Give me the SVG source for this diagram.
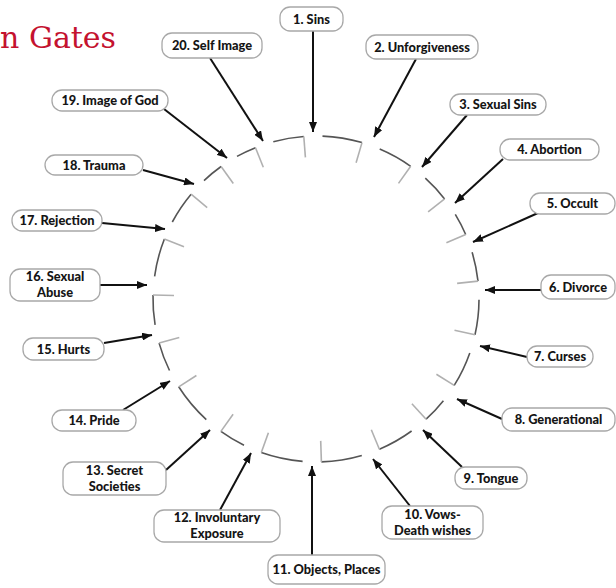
<svg xmlns="http://www.w3.org/2000/svg" width="616" height="588" viewBox="0 0 616 588">
<defs>
<style>
.box{fill:#fff;stroke:#a8a8a8;stroke-width:1.3}
.lbl{font-family:Lato,"Open Sans",sans-serif;font-weight:900;font-size:12.8px;fill:#151515;text-anchor:middle}
.arr{stroke:#111;stroke-width:2;fill:none;marker-end:url(#ah)}
.arc{stroke:#555;stroke-width:1.6;fill:none}
.tick{stroke:#b0b0b0;stroke-width:1.6;fill:none}
.title{font-family:"DejaVu Serif","Liberation Serif",serif;font-size:30px;fill:#c4122f}
</style>
<marker id="ah" markerUnits="userSpaceOnUse" markerWidth="10" markerHeight="8" refX="10" refY="4" orient="auto">
<path d="M0,0 L10,4 L0,8 z" fill="#111"/>
</marker>
</defs>
<rect width="616" height="588" fill="#fff"/>
<text class="title" x="116" y="48" text-anchor="end">n Gates</text>

<g id="ring">
<path class="arc" d="M322.5,136.1 A163,163 0 0 1 362.0,142.6"/><path class="tick" d="M362.0,142.6 L356.1,162.8"/>
<path class="arc" d="M379.7,149.0 A163,163 0 0 1 410.7,166.3"/><path class="tick" d="M410.7,166.3 L398.5,183.4"/>
<path class="arc" d="M425.3,178.1 A163,163 0 0 1 444.6,198.9"/><path class="tick" d="M444.6,198.9 L428.1,211.8"/>
<path class="arc" d="M455.3,214.3 A163,163 0 0 1 465.7,234.5"/><path class="tick" d="M465.7,234.5 L446.4,242.8"/>
<path class="arc" d="M472.1,252.2 A163,163 0 0 1 478.0,281.1"/><path class="tick" d="M478.0,281.1 L457.1,283.4"/>
<path class="arc" d="M479.0,299.8 A163,163 0 0 1 475.0,334.8"/><path class="tick" d="M475.0,334.8 L454.5,330.2"/>
<path class="arc" d="M469.8,352.9 A163,163 0 0 1 454.2,385.4"/><path class="tick" d="M454.2,385.4 L436.4,374.2"/>
<path class="arc" d="M443.4,400.7 A163,163 0 0 1 426.1,419.2"/><path class="tick" d="M426.1,419.2 L411.9,403.7"/>
<path class="arc" d="M411.6,431.0 A163,163 0 0 1 379.4,449.2"/><path class="tick" d="M379.4,449.2 L371.3,429.8"/>
<path class="arc" d="M361.8,455.4 A163,163 0 0 1 321.4,461.9"/><path class="tick" d="M321.4,461.9 L320.7,440.9"/>
<path class="arc" d="M302.6,461.4 A163,163 0 0 1 261.3,452.6"/><path class="tick" d="M261.3,452.6 L268.4,432.8"/>
<path class="arc" d="M244.0,445.3 A163,163 0 0 1 220.9,431.4"/><path class="tick" d="M220.9,431.4 L233.1,414.3"/>
<path class="arc" d="M206.3,419.6 A163,163 0 0 1 178.7,386.8"/><path class="tick" d="M178.7,386.8 L196.4,375.5"/>
<path class="arc" d="M169.5,370.5 A163,163 0 0 1 159.1,343.1"/><path class="tick" d="M159.1,343.1 L179.3,337.4"/>
<path class="arc" d="M155.1,324.8 A163,163 0 0 1 153.0,295.0"/><path class="tick" d="M153.0,295.0 L174.0,295.5"/>
<path class="arc" d="M154.6,276.3 A163,163 0 0 1 164.4,239.0"/><path class="tick" d="M164.4,239.0 L184.0,246.7"/>
<path class="arc" d="M172.3,222.0 A163,163 0 0 1 191.1,194.2"/><path class="tick" d="M191.1,194.2 L207.2,207.7"/>
<path class="arc" d="M204.0,180.6 A163,163 0 0 1 221.1,166.5"/><path class="tick" d="M221.1,166.5 L233.3,183.5"/>
<path class="arc" d="M237.0,156.4 A163,163 0 0 1 255.5,147.7"/><path class="tick" d="M255.5,147.7 L263.3,167.2"/>
<path class="arc" d="M273.3,141.7 A163,163 0 0 1 303.8,136.5"/><path class="tick" d="M303.8,136.5 L305.4,157.4"/>
</g>

<g id="connectors">
<line class="arr" x1="313" y1="31" x2="313" y2="132"/>
<line class="arr" x1="416" y1="59" x2="374" y2="137"/>
<line class="arr" x1="467" y1="115" x2="422" y2="167"/>
<line class="arr" x1="503" y1="159" x2="455" y2="203"/>
<line class="arr" x1="538" y1="213" x2="473" y2="242"/>
<line class="arr" x1="541" y1="290" x2="485" y2="290"/>
<line class="arr" x1="527" y1="357" x2="480" y2="346"/>
<line class="arr" x1="502" y1="419" x2="457" y2="399"/>
<line class="arr" x1="462" y1="467" x2="423" y2="430"/>
<line class="arr" x1="410" y1="506" x2="373" y2="459"/>
<line class="arr" x1="312" y1="555" x2="312" y2="466"/>
<line class="arr" x1="220" y1="510" x2="251" y2="453"/>
<line class="arr" x1="166" y1="470" x2="210" y2="430"/>
<line class="arr" x1="123" y1="410" x2="170" y2="381"/>
<line class="arr" x1="104" y1="343" x2="152" y2="335"/>
<line class="arr" x1="100" y1="285" x2="147" y2="285"/>
<line class="arr" x1="102" y1="223" x2="165" y2="229"/>
<line class="arr" x1="143" y1="170" x2="194" y2="184"/>
<line class="arr" x1="164" y1="109" x2="227" y2="158"/>
<line class="arr" x1="210" y1="58" x2="263" y2="141"/>
</g>

<g id="n1"><rect class="box" x="280" y="7" width="63" height="24" rx="10"/><text class="lbl" x="311.5" y="23.5">1. Sins</text></g>
<g id="n2"><rect class="box" x="366" y="35" width="112" height="24" rx="10"/><text class="lbl" x="422" y="51.5">2. Unforgiveness</text></g>
<g id="n3"><rect class="box" x="450" y="94" width="96" height="21" rx="10"/><text class="lbl" x="498" y="109">3. Sexual Sins</text></g>
<g id="n4"><rect class="box" x="500" y="139" width="99" height="21" rx="10"/><text class="lbl" x="549.5" y="154">4. Abortion</text></g>
<g id="n5"><rect class="box" x="530" y="193" width="85" height="21" rx="10"/><text class="lbl" x="572.5" y="208">5. Occult</text></g>
<g id="n6"><rect class="box" x="541" y="275" width="74" height="24" rx="10"/><text class="lbl" x="578" y="291.5">6. Divorce</text></g>
<g id="n7"><rect class="box" x="527" y="346" width="66" height="21" rx="10"/><text class="lbl" x="560" y="361">7. Curses</text></g>
<g id="n8"><rect class="box" x="502" y="408" width="113" height="23" rx="10"/><text class="lbl" x="558.5" y="424">8. Generational</text></g>
<g id="n9"><rect class="box" x="455" y="467" width="72" height="22" rx="10"/><text class="lbl" x="491" y="482.5">9. Tongue</text></g>
<g id="n10"><rect class="box" x="382" y="506" width="101" height="33" rx="10"/><text class="lbl" x="432.5" y="519">10. Vows-</text><text class="lbl" x="432.5" y="534.5">Death wishes</text></g>
<g id="n11"><rect class="box" x="268" y="555" width="117" height="29" rx="10"/><text class="lbl" x="326.5" y="574">11. Objects, Places</text></g>
<g id="n12"><rect class="box" x="154" y="510" width="126" height="32" rx="10"/><text class="lbl" x="217" y="522">12. Involuntary</text><text class="lbl" x="217" y="537.5">Exposure</text></g>
<g id="n13"><rect class="box" x="63" y="462" width="103" height="33" rx="10"/><text class="lbl" x="114.5" y="475">13. Secret</text><text class="lbl" x="114.5" y="490.5">Societies</text></g>
<g id="n14"><rect class="box" x="52" y="410" width="84" height="21" rx="10"/><text class="lbl" x="94" y="425">14. Pride</text></g>
<g id="n15"><rect class="box" x="23" y="338" width="81" height="22" rx="10"/><text class="lbl" x="63.5" y="353.5">15. Hurts</text></g>
<g id="n16"><rect class="box" x="10" y="269" width="90" height="32" rx="10"/><text class="lbl" x="55" y="281">16. Sexual</text><text class="lbl" x="55" y="296.5">Abuse</text></g>
<g id="n17"><rect class="box" x="12" y="210" width="90" height="21" rx="10"/><text class="lbl" x="57" y="225">17. Rejection</text></g>
<g id="n18"><rect class="box" x="45" y="155" width="98" height="20" rx="10"/><text class="lbl" x="94" y="169.5">18. Trauma</text></g>
<g id="n19"><rect class="box" x="52" y="90" width="116" height="21" rx="10"/><text class="lbl" x="110" y="105">19. Image of God</text></g>
<g id="n20"><rect class="box" x="162" y="33" width="100" height="25" rx="10"/><text class="lbl" x="212" y="50">20. Self Image</text></g>
</svg>
